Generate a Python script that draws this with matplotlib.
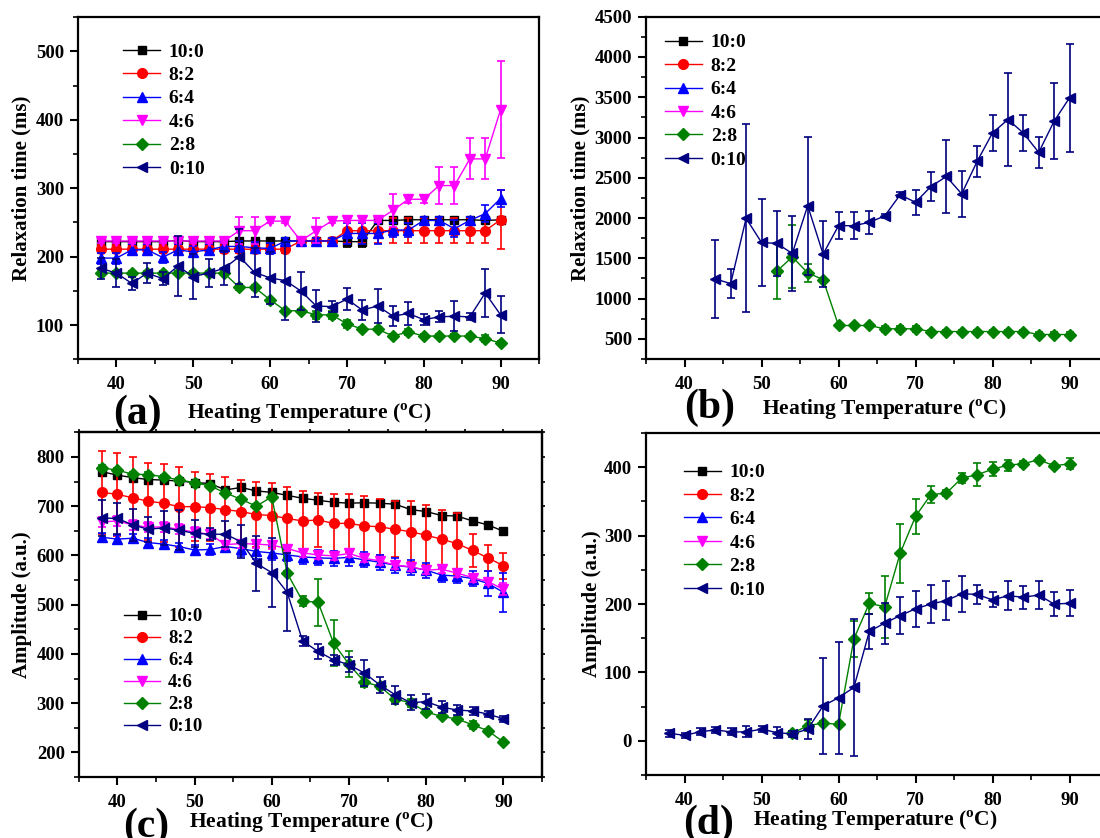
import matplotlib

matplotlib.use("Agg")
import matplotlib.pyplot as plt
from matplotlib.lines import Line2D
from matplotlib.ticker import MultipleLocator

plt.rcParams["font.family"] = ["Liberation Serif", "DejaVu Serif"]
plt.rcParams["font.weight"] = "bold"
plt.rcParams["axes.labelweight"] = "bold"
plt.rcParams["mathtext.fontset"] = "custom"
plt.rcParams["mathtext.rm"] = "Liberation Serif:bold"
plt.rcParams["mathtext.bf"] = "Liberation Serif:bold"

# mass ratios, one series each
LABELS = ["10:0", "8:2", "6:4", "4:6", "2:8", "0:10"]
COLORS = ["black", "#ff0000", "#0000ff", "#ff00ff", "#008000", "#000080"]
MARKERS = ["s", "o", "^", "v", "D", "<"]
MSIZES = [6, 7, 7.5, 7.5, 6, 7.5]

TEMPS = [38, 40, 42, 44, 46, 48, 50, 52, 54, 56, 58, 60, 62, 64,
         66, 68, 70, 72, 74, 76, 78, 80, 82, 84, 86, 88, 90]
TEMPS_B_0_10 = [44, 46, 48, 50, 52, 54, 56, 58, 60, 62, 64, 66,
                68, 70, 72, 74, 76, 78, 80, 82, 84, 86, 88, 90]
TEMPS_B_2_8 = [52, 54, 56, 58, 60, 62, 64, 66, 68, 70,
               72, 74, 76, 78, 80, 82, 84, 86, 88, 90]
TEMPS_D_2_8 = [54, 56, 58, 60, 62, 64, 66, 68, 70, 72,
               74, 76, 78, 80, 82, 84, 86, 88, 90]

# (a) relaxation time T21 (ms)
a_10_0 = [222, 222, 222, 222, 222, 224, 222, 222, 222, 223, 223, 223, 223, 223,
          223, 223, 222, 222, 253, 253, 254, 254, 254, 254, 254, 253, 254]
a_10_0_err = [4, 4, 4, 4, 4, 4, 4, 4, 4, 4, 4, 4, 4, 4,
              4, 4, 8, 8, 4, 4, 4, 4, 4, 4, 4, 4, 4]
a_8_2 = [211, 211, 211, 211, 211, 211, 211, 211, 211, 211, 211, 211, 211, 223,
         223, 223, 238, 238, 238, 238, 238, 238, 238, 238, 238, 238, 254]
a_8_2_err = [6, 6, 6, 6, 6, 6, 6, 6, 6, 6, 6, 6, 6, 4,
             4, 4, 18, 18, 18, 18, 18, 18, 18, 18, 18, 18, 43]
a_6_4 = [198, 198, 210, 210, 199, 210, 207, 210, 215, 215, 213, 212, 223, 223,
         223, 223, 234, 234, 234, 239, 239, 253, 253, 241, 253, 263, 285]
a_6_4_err = [8, 8, 8, 8, 8, 8, 8, 8, 8, 8, 8, 8, 5, 5,
             5, 5, 15, 15, 15, 10, 10, 5, 5, 12, 5, 12, 12]
a_4_6 = [223, 223, 223, 223, 223, 223, 223, 223, 223, 238, 238, 252, 252, 223,
         238, 252, 253, 253, 253, 268, 284, 284, 304, 304, 343, 343, 415]
a_4_6_err = [3, 3, 3, 3, 3, 3, 3, 3, 3, 20, 20, 3, 3, 3,
             18, 3, 3, 3, 3, 24, 5, 5, 27, 27, 30, 30, 71]
a_2_8 = [176, 176, 176, 176, 176, 176, 176, 176, 176, 155, 155, 137, 121, 121,
         115, 115, 102, 94, 94, 84, 90, 84, 84, 84, 84, 80, 74]
a_2_8_err = [3, 3, 3, 3, 3, 3, 3, 3, 3, 3, 3, 3, 3, 3,
             6, 6, 6, 3, 3, 3, 5, 3, 3, 3, 3, 5, 3]
a_0_10 = [183, 176, 161, 176, 168, 186, 171, 176, 183, 200, 177, 169, 165, 150,
          128, 127, 138, 122, 128, 113, 117, 108, 112, 113, 112, 147, 115]
a_0_10_err = [15, 20, 10, 15, 10, 44, 33, 20, 25, 40, 36, 38, 57, 28,
              24, 8, 16, 15, 25, 15, 17, 8, 8, 22, 5, 35, 27]

# (b) relaxation time T22 (ms), only two ratios resolved
b_2_8 = [1340, 1518, 1319, 1236, 666, 666, 666, 625, 625, 625,
         591, 591, 591, 591, 591, 591, 591, 554, 554, 554]
b_2_8_err = [349, 390, 114, 20, 20, 20, 20, 40, 40, 40,
             20, 20, 20, 20, 20, 20, 20, 30, 30, 30]
b_0_10 = [1244, 1186, 1997, 1697, 1685, 1560, 2154, 1552, 1905, 1905, 1947, 2026,
          2288, 2196, 2391, 2516, 2300, 2703, 3057, 3223, 3057, 2815, 3202, 3493]
b_0_10_err = [489, 177, 1168, 540, 407, 465, 856, 407, 170, 170, 139, 30,
              30, 154, 175, 457, 287, 197, 220, 582, 220, 195, 474, 673]

# (c) amplitude A21 (a.u.)
c_10_0 = [770, 763, 758, 754, 753, 751, 748, 746, 733, 738, 731, 728, 722, 716,
          712, 708, 706, 707, 706, 704, 693, 689, 681, 680, 670, 662, 649]
c_10_0_err = [4] * 27
c_8_2 = [728, 724, 717, 710, 706, 699, 699, 697, 693, 689, 683, 681, 675, 670,
         672, 665, 665, 660, 658, 653, 648, 641, 633, 624, 610, 595, 579]
c_8_2_err = [84, 84, 83, 78, 79, 81, 70, 68, 66, 64, 66, 66, 64, 60,
             54, 59, 59, 60, 57, 57, 62, 61, 59, 62, 34, 27, 26]
c_6_4 = [637, 633, 635, 626, 623, 618, 611, 612, 618, 614, 608, 605, 601, 597,
         595, 594, 596, 591, 586, 580, 576, 570, 560, 558, 553, 543, 525]
c_6_4_err = [8, 8, 8, 10, 8, 8, 10, 12, 10, 15, 15, 15, 12, 15,
             15, 15, 18, 15, 15, 15, 15, 15, 15, 15, 15, 25, 40]
c_4_6 = [668, 670, 662, 657, 658, 653, 647, 643, 622, 624, 623, 621, 614, 605,
         601, 599, 604, 594, 589, 580, 577, 570, 572, 564, 555, 547, 531]
c_4_6_err = [10, 10, 10, 10, 10, 10, 10, 10, 8, 8, 8, 8, 8, 8,
             8, 8, 8, 8, 8, 8, 8, 8, 8, 8, 8, 8, 12]
c_2_8 = [778, 773, 765, 764, 760, 753, 748, 741, 727, 714, 700, 719, 564, 507,
         505, 422, 379, 343, 334, 308, 301, 282, 273, 268, 256, 244, 221]
c_2_8_err = [5, 5, 5, 5, 4, 4, 4, 4, 4, 4, 4, 4, 4, 10,
             48, 46, 26, 10, 5, 5, 8, 4, 4, 4, 8, 4, 4]
c_0_10 = [676, 675, 662, 653, 656, 651, 645, 643, 643, 628, 584, 565, 525, 426,
          405, 388, 378, 361, 337, 317, 301, 303, 292, 286, 284, 278, 268]
c_0_10_err = [36, 32, 32, 25, 34, 41, 27, 12, 26, 34, 56, 70, 79, 10,
              15, 10, 15, 27, 16, 18, 15, 15, 12, 10, 8, 6, 6]

# (d) amplitude A22 (a.u.)
d_2_8 = [11, 22, 26, 24, 149, 201, 196, 274, 328, 360,
         362, 384, 389, 397, 403, 405, 411, 402, 405]
d_2_8_err = [3, 8, 3, 3, 26, 15, 45, 43, 26, 13,
             4, 7, 17, 10, 8, 4, 3, 3, 8]
d_0_10 = [11, 8, 13, 16, 13, 13, 17, 12, 10, 17, 51, 63, 78, 160,
          172, 183, 193, 200, 205, 215, 214, 206, 212, 210, 213, 200, 201]
d_0_10_err = [5, 4, 5, 4, 5, 8, 4, 8, 4, 15, 70, 82, 100, 26,
              30, 27, 26, 28, 29, 26, 14, 11, 21, 17, 20, 18, 19]

W, H = 1100, 838
XLABEL = r"Heating Temperature ($^{\mathbf{o}}$C)"


def px_rect(left, top, right, bottom):
    return [left / W, 1 - bottom / H, (right - left) / W, (bottom - top) / H]


def plot_series(ax, idx, x, y, yerr):
    color = COLORS[idx]
    ax.errorbar(x, y, yerr=yerr, fmt="none", ecolor=color, elinewidth=1.2,
                capsize=3, capthick=1.2, zorder=2 + idx)
    ax.plot(x, y, color=color, lw=1.0, marker=MARKERS[idx], ms=MSIZES[idx],
            mec=color, mfc=color, zorder=2.5 + idx)


def style_axes(ax, ylim, ymajor, yminor, mirror=False):
    ax.set_xlim(35, 95)
    ax.set_ylim(*ylim)
    ax.xaxis.set_major_locator(MultipleLocator(10))
    ax.xaxis.set_minor_locator(MultipleLocator(5))
    ax.yaxis.set_major_locator(MultipleLocator(ymajor))
    ax.yaxis.set_minor_locator(MultipleLocator(yminor))
    ax.tick_params(which="major", direction="out", length=6, width=1.5,
                   labelsize=13.5, pad=4)
    ax.tick_params(axis="x", which="major", pad=6)
    ax.tick_params(which="minor", direction="out", length=3.5, width=1.2)
    for spine in ax.spines.values():
        spine.set_linewidth(1.6)
    for lab in ax.get_xticklabels() + ax.get_yticklabels():
        lab.set_fontweight("bold")
    if mirror:
        # short unlabelled ticks on the top and right frame
        top = ax.secondary_xaxis("top")
        right = ax.secondary_yaxis("right")
        top.xaxis.set_major_locator(MultipleLocator(10))
        top.xaxis.set_minor_locator(MultipleLocator(5))
        right.yaxis.set_major_locator(MultipleLocator(ymajor))
        right.yaxis.set_minor_locator(MultipleLocator(yminor))
        for sec in (top, right):
            sec.tick_params(which="both", direction="out", length=2.5, width=1.2,
                            labeltop=False, labelright=False)
            for spine in sec.spines.values():
                spine.set_linewidth(1.6)


def add_legend(ax, anchor, fontsize=14, spacing=0.3):
    handles = [Line2D([], [], color=c, marker=m, ms=s, lw=1.0)
               for c, m, s in zip(COLORS, MARKERS, MSIZES)]
    ax.legend(handles, LABELS, loc="upper left", bbox_to_anchor=anchor,
              frameon=False, borderpad=0, borderaxespad=0,
              handlelength=1.9, handletextpad=0.45, labelspacing=spacing,
              prop={"family": "Liberation Serif", "weight": "bold", "size": fontsize})


def set_labels(ax, ylabel, ylab_x, xlab_pos):
    ax.set_ylabel(ylabel, fontsize=15, fontweight="bold")
    ax.yaxis.set_label_coords(ylab_x, 0.5)
    ax.set_xlabel(XLABEL, fontsize=15.5, fontweight="bold")
    ax.xaxis.label.set_verticalalignment("center")
    ax.xaxis.set_label_coords(*xlab_pos)


fig = plt.figure(figsize=(W / 100, H / 100), dpi=100)

ax_a = fig.add_axes(px_rect(78, 17.3, 539, 359.3))
ax_b = fig.add_axes(px_rect(646, 16.7, 1108, 359))
ax_c = fig.add_axes(px_rect(78.7, 432.3, 542, 777))
ax_d = fig.add_axes(px_rect(646, 433, 1108, 775))

for i, (y, e) in enumerate([(a_10_0, a_10_0_err), (a_8_2, a_8_2_err),
                            (a_6_4, a_6_4_err), (a_4_6, a_4_6_err),
                            (a_2_8, a_2_8_err), (a_0_10, a_0_10_err)]):
    plot_series(ax_a, i, TEMPS, y, e)

plot_series(ax_b, 4, TEMPS_B_2_8, b_2_8, b_2_8_err)
plot_series(ax_b, 5, TEMPS_B_0_10, b_0_10, b_0_10_err)

for i, (y, e) in enumerate([(c_10_0, c_10_0_err), (c_8_2, c_8_2_err),
                            (c_6_4, c_6_4_err), (c_4_6, c_4_6_err),
                            (c_2_8, c_2_8_err), (c_0_10, c_0_10_err)]):
    plot_series(ax_c, i, TEMPS, y, e)

plot_series(ax_d, 4, TEMPS_D_2_8, d_2_8, d_2_8_err)
plot_series(ax_d, 5, TEMPS, d_0_10, d_0_10_err)

style_axes(ax_a, (50, 550), 100, 50)
style_axes(ax_b, (250, 4500), 500, 250)
style_axes(ax_c, (150, 850), 100, 50, mirror=True)
style_axes(ax_d, (-50, 450), 100, 50)

add_legend(ax_a, (0.098, 0.925))
add_legend(ax_b, (0.041, 0.95))
add_legend(ax_c, (0.098, 0.49), fontsize=13.5, spacing=0.26)
add_legend(ax_d, (0.082, 0.91))

set_labels(ax_a, "Relaxation time (ms)", -0.100, (0.502, -0.160))
set_labels(ax_b, "Relaxation time (ms)", -0.121, (0.515, -0.149))
set_labels(ax_c, "Amplitude (a.u.)", -0.101, (0.502, -0.133))
set_labels(ax_d, "Amplitude (a.u.)", -0.095, (0.496, -0.134))

for tag, x, y in [("(a)", 137, 414), ("(b)", 710, 408), ("(c)", 146, 827), ("(d)", 709, 824)]:
    fig.text(x / W, 1 - y / H, tag, fontsize=30, fontweight="bold",
             ha="center", va="center")

fig.savefig("out.png", dpi=100)
